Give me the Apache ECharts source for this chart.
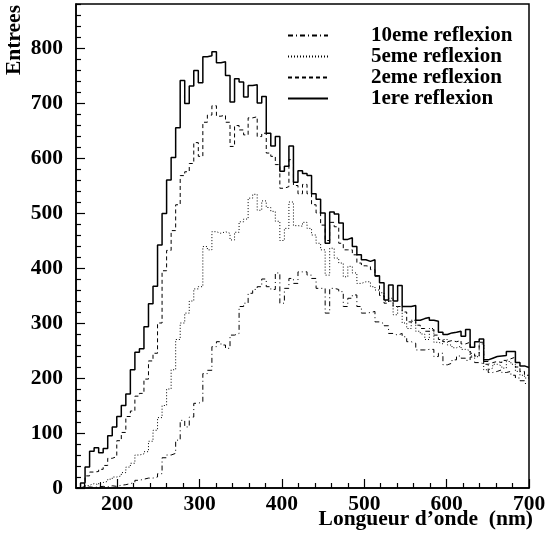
<!DOCTYPE html>
<html>
<head>
<meta charset="utf-8">
<script src="https://cdn.jsdelivr.net/npm/echarts@6/dist/echarts.min.js"></script>
<style>
html,body{margin:0;padding:0;background:#fff;}
#chart{width:547px;height:534px;}
</style>
</head>
<body>
<div id="chart"></div>
<script>
// Histogram binning (100 bins from 150 to 700 nm)
const binStart = 150;
const binWidth = 5.5;

// Series names (legend order)
const names = ['10eme reflexion', '5eme reflexion', '2eme reflexion', '1ere reflexion'];

// Bin contents
const refl1 = [0,9,38,67,73,64,72,95,111,130,150,171,215,247,253,293,335,367,442,499,
  560,601,655,741,699,731,759,737,784,786,793,773,775,750,702,744,738,711,732,733,
  700,712,645,622,639,576,585,622,556,577,572,568,535,525,500,445,502,498,482,452,
  455,439,424,415,412,415,386,373,342,369,340,368,330,330,332,305,308,310,305,303,
  283,279,282,283,285,276,288,256,266,271,233,236,239,240,241,248,248,228,222,219];
const refl2 = [0,3,22,29,30,34,41,54,57,86,101,130,140,167,172,198,231,245,300,395,
  432,468,515,568,575,590,628,603,665,678,695,676,678,665,621,659,651,642,673,675,
  639,645,609,603,588,545,548,597,550,535,552,535,515,500,478,450,483,475,445,433,
  433,424,409,404,403,397,385,350,336,340,330,330,320,302,305,296,290,285,288,278,
  270,266,268,266,268,262,265,245,240,265,225,228,230,228,232,235,238,220,212,205];
const refl5 = [0,3,5,8,6,10,12,16,20,22,28,38,45,60,62,66,85,105,128,150,
  180,215,270,300,318,340,362,366,439,433,466,463,466,463,451,465,484,489,527,534,
  505,522,510,503,485,450,472,520,477,476,483,472,460,445,433,387,436,418,409,384,
  403,391,372,375,375,366,360,355,340,345,315,330,300,290,305,285,280,270,290,265,
  262,270,260,255,258,252,250,240,238,262,215,218,225,222,218,230,225,212,205,200];
const refl10 = [0,0,2,1,2,3,2,4,3,5,6,8,10,14,16,18,18,20,26,55,
  60,63,87,123,111,129,154,157,208,214,257,266,260,254,278,281,330,336,354,361,
  366,380,366,361,391,336,363,381,372,393,393,387,381,363,363,318,363,361,357,330,
  345,351,330,318,319,321,302,299,295,281,278,281,275,266,263,251,251,252,252,239,
  245,224,227,233,240,236,232,238,228,226,230,210,212,215,210,212,205,200,195,190];

// Axis ticks
const xMajor = [200,300,400,500,600,700];
const xMinor = [160,180,220,240,260,280,320,340,360,380,420,440,460,480,520,540,560,580,620,640,660,680];
const yMajor = [0,100,200,300,400,500,600,700,800];
const yMinor = [20,40,60,80,120,140,160,180,220,240,260,280,320,340,360,380,420,440,460,480,
  520,540,560,580,620,640,660,680,720,740,760,780,820,840,860,880];

function toSteps(vals) {
  const pts = vals.map((v, i) => [binStart + i * binWidth, v]);
  pts.push([binStart + vals.length * binWidth, vals[vals.length - 1]]);
  return pts;
}

const FONT = 'Liberation Serif';
const txt = {fontFamily: FONT, fontWeight: 'bold', fontSize: 21.5, color: '#000'};

const chart = echarts.init(document.getElementById('chart'), null, {renderer: 'canvas'});
const styles = [
  {type: [5, 3, 1, 3], width: 1},
  {type: [1, 2], width: 1},
  {type: [4, 3], width: 1},
  {type: 'solid', width: 1.5}
];
const datasets = [refl10, refl5, refl2, refl1];

chart.setOption({
  animation: false,
  backgroundColor: '#fff',
  grid: {left: 76, right: 18, top: 4, bottom: 46, show: true, borderColor: '#000', borderWidth: 1.5,
    containLabel: false, outerBoundsMode: 'none'},
  legend: {
    data: names,
    orient: 'vertical',
    left: 282,
    top: 20,
    itemWidth: 40,
    itemHeight: 10,
    itemGap: 0,
    itemStyle: {opacity: 0},
    textStyle: Object.assign({}, txt, {fontSize: 21, lineHeight: 19, padding: [0, 0, 0, 38]})
  },
  xAxis: [
    {
      type: 'value', min: 150, max: 700, position: 'bottom',
      axisLine: {show: true, onZero: false, lineStyle: {color: '#000', width: 1.5}},
      axisTick: {show: true, inside: true, length: 9, customValues: xMajor, lineStyle: {color: '#000', width: 1.2}},
      axisLabel: Object.assign({customValues: xMajor, margin: 5}, txt),
      splitLine: {show: false},
      name: 'Longueur d\u2019onde  (nm)',
      nameLocation: 'end',
      nameGap: 4,
      nameMoveOverlap: false,
      nameTextStyle: Object.assign({}, txt, {align: 'right', verticalAlign: 'top', padding: [20, 0, 0, 0]})
    },
    {
      type: 'value', min: 150, max: 700, position: 'bottom',
      axisLine: {show: false},
      axisTick: {show: true, inside: true, length: 5, customValues: xMinor, lineStyle: {color: '#000', width: 1.2}},
      axisLabel: {show: false},
      splitLine: {show: false}
    }
  ],
  yAxis: [
    {
      type: 'value', min: 0, max: 880, position: 'left',
      axisLine: {show: true, onZero: false, lineStyle: {color: '#000', width: 1.5}},
      axisTick: {show: true, inside: true, length: 9, customValues: yMajor, lineStyle: {color: '#000', width: 1.2}},
      axisLabel: Object.assign({customValues: yMajor, margin: 13}, txt),
      splitLine: {show: false},
      name: 'Entrees',
      nameLocation: 'end',
      nameGap: -1,
      nameRotate: 90,
      nameMoveOverlap: false,
      nameTextStyle: Object.assign({}, txt, {align: 'right', verticalAlign: 'bottom', padding: [0, 0, 51, 0]})
    },
    {
      type: 'value', min: 0, max: 880, position: 'left',
      axisLine: {show: false},
      axisTick: {show: true, inside: true, length: 5, customValues: yMinor, lineStyle: {color: '#000', width: 1.2}},
      axisLabel: {show: false},
      splitLine: {show: false}
    }
  ],
  series: datasets.map((vals, k) => ({
    name: names[k],
    type: 'line',
    step: 'end',
    xAxisIndex: 0,
    yAxisIndex: 0,
    symbol: 'none',
    silent: true,
    color: '#000',
    lineStyle: {color: '#000', width: styles[k].width, type: styles[k].type},
    data: toSteps(vals)
  }))
});
</script>
</body>
</html>
